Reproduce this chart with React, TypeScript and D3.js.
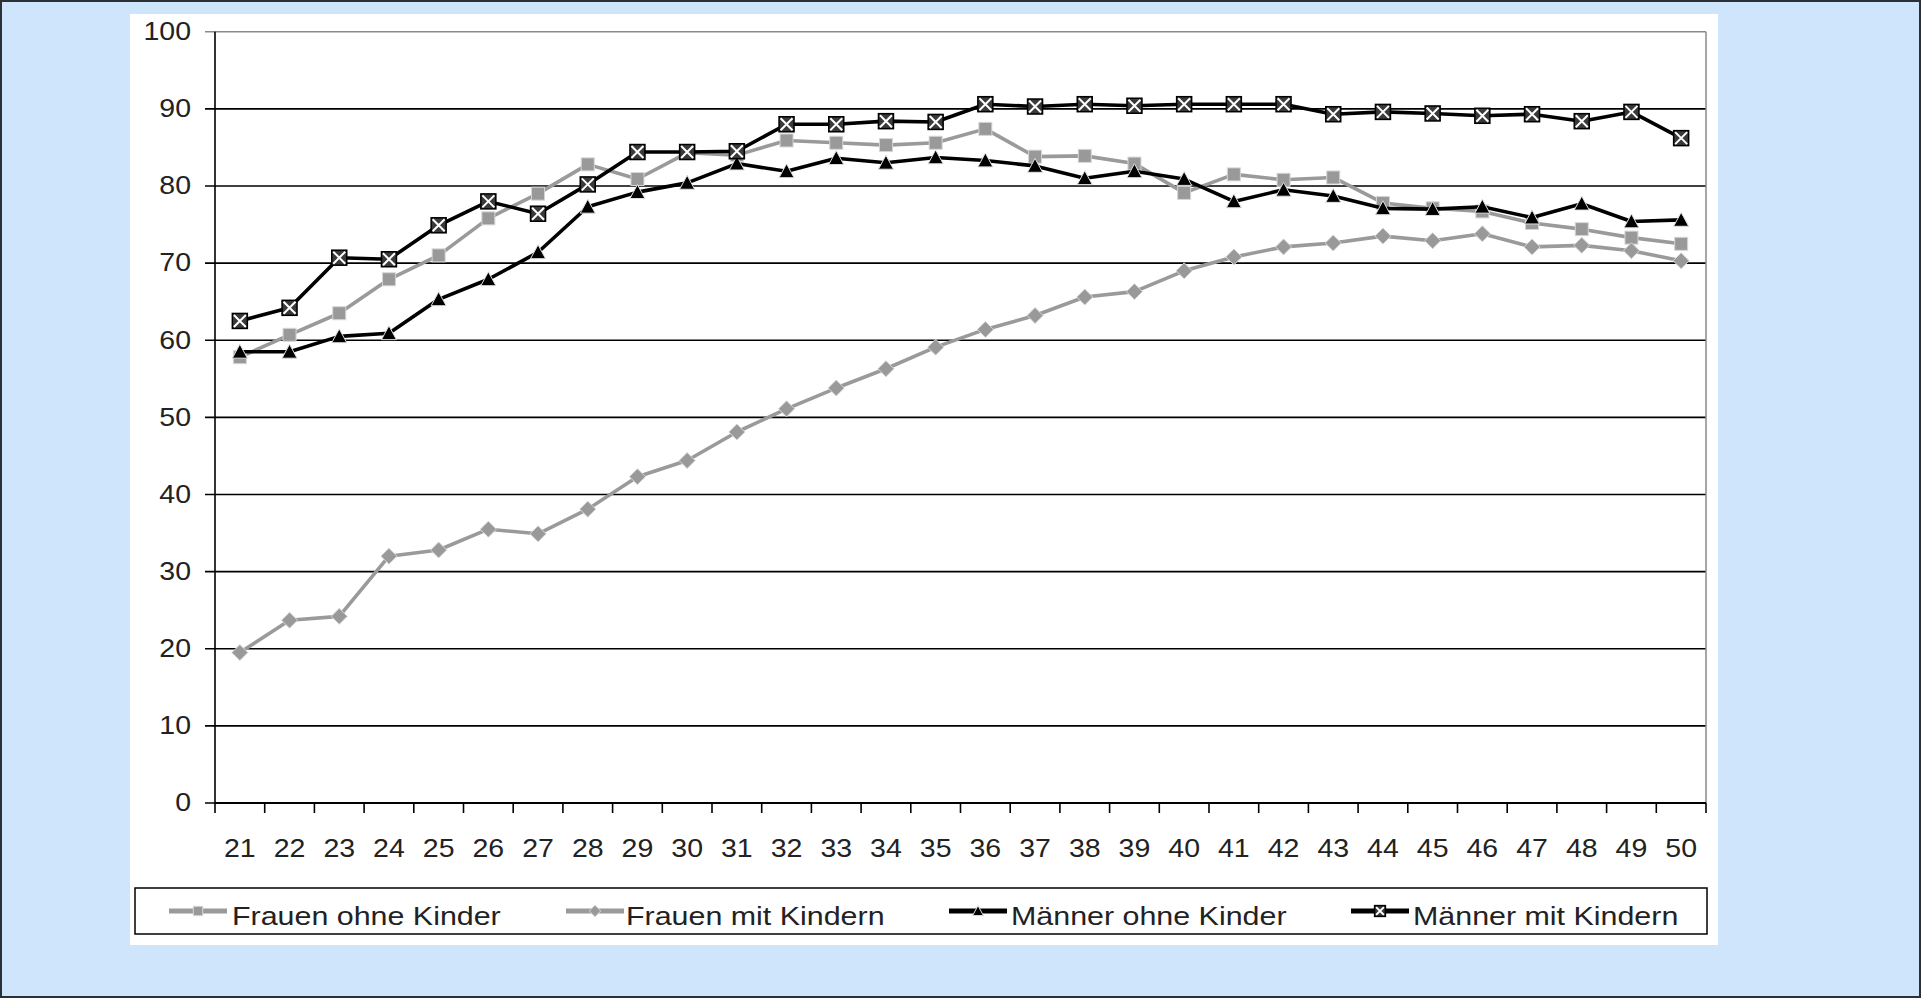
import React, { useMemo } from 'react'
import * as d3 from 'd3'

// Altersjahre (x-Achse)
const ages = [
  '21', '22', '23', '24', '25', '26', '27', '28', '29', '30',
  '31', '32', '33', '34', '35', '36', '37', '38', '39', '40',
  '41', '42', '43', '44', '45', '46', '47', '48', '49', '50',
]

const frauenOhneKinder = [
  57.8, 60.7, 63.5, 67.9, 71.0, 75.8, 79.0, 82.8, 80.9, 84.3,
  84.0, 85.9, 85.6, 85.3, 85.6, 87.4, 83.8, 83.9, 82.9, 79.1,
  81.5, 80.8, 81.1, 77.8, 77.1, 76.7, 75.2, 74.4, 73.3, 72.5,
]
const frauenMitKindern = [
  19.5, 23.7, 24.2, 32.0, 32.8, 35.5, 34.9, 38.1, 42.3, 44.4,
  48.1, 51.1, 53.8, 56.3, 59.1, 61.4, 63.2, 65.6, 66.3, 69.0,
  70.8, 72.1, 72.6, 73.5, 72.9, 73.8, 72.1, 72.3, 71.6, 70.3,
]
const maennerOhneKinder = [
  58.5, 58.5, 60.5, 60.9, 65.3, 67.9, 71.4, 77.3, 79.2, 80.4,
  82.9, 81.9, 83.6, 83.0, 83.7, 83.3, 82.6, 81.0, 81.9, 80.9,
  78.0, 79.5, 78.7, 77.1, 77.0, 77.3, 75.9, 77.7, 75.4, 75.6,
]
const maennerMitKindern = [
  62.5, 64.2, 70.7, 70.5, 74.9, 78.0, 76.4, 80.2, 84.4, 84.4,
  84.5, 88.0, 88.0, 88.4, 88.3, 90.6, 90.3, 90.6, 90.4, 90.6,
  90.6, 90.6, 89.3, 89.6, 89.4, 89.1, 89.3, 88.4, 89.6, 86.2,
]

const yTicks = [0, 10, 20, 30, 40, 50, 60, 70, 80, 90, 100]

type MarkerKind = 'square' | 'diamond' | 'triangle' | 'xsquare'

interface Series {
  name: string
  values: number[]
  color: string
  marker: MarkerKind
}

const series: Series[] = [
  { name: 'Frauen ohne Kinder', values: frauenOhneKinder, color: '#9a9a9a', marker: 'square' },
  { name: 'Frauen mit Kindern', values: frauenMitKindern, color: '#9a9a9a', marker: 'diamond' },
  { name: 'Männer ohne Kinder', values: maennerOhneKinder, color: '#000000', marker: 'triangle' },
  { name: 'Männer mit Kindern', values: maennerMitKindern, color: '#000000', marker: 'xsquare' },
]

const W = 1921
const H = 998
const FONT = '"Liberation Sans", Arial, sans-serif'
const STRETCH = 1.14 // the original picture is stretched horizontally
const LEGEND_STRETCH = 1.17

const plot = { left: 215, right: 1706, top: 31.7, bottom: 803 }

const Marker: React.FC<{ kind: MarkerKind; x: number; y: number; s?: number }> = ({ kind, x, y, s = 1 }) => {
  if (kind === 'square') {
    const h = 6.5 * s
    return <rect x={x - h} y={y - h} width={2 * h} height={2 * h} fill="#999999" stroke="#d6d6d6" strokeWidth={1} />
  }
  if (kind === 'diamond') {
    const h = 8 * s
    return (
      <path
        d={`M${x},${y - h}L${x + h},${y}L${x},${y + h}L${x - h},${y}Z`}
        fill="#999999"
        stroke="#d6d6d6"
        strokeWidth={1}
      />
    )
  }
  if (kind === 'triangle') {
    const h = 7.5 * s
    return (
      <path
        d={`M${x},${y - h}L${x + h},${y + h * 0.85}L${x - h},${y + h * 0.85}Z`}
        fill="#000"
        stroke="#e0e0e0"
        strokeWidth={1}
      />
    )
  }
  const h = 7.5 * s
  return (
    <g>
      <rect x={x - h} y={y - h} width={2 * h} height={2 * h} fill="#3a3a3a" stroke="#000" strokeWidth={1.5} />
      <path
        d={`M${x - h + 1.5},${y - h + 1.5}L${x + h - 1.5},${y + h - 1.5}M${x + h - 1.5},${y - h + 1.5}L${x - h + 1.5},${y + h - 1.5}`}
        stroke="#fff"
        strokeWidth={2}
      />
    </g>
  )
}

const legendItems = [
  { lineX: 169, textX: 232 },
  { lineX: 566, textX: 626 },
  { lineX: 949, textX: 1011 },
  { lineX: 1351, textX: 1413 },
]

export default function App() {
  const x = useMemo(
    () => d3.scaleBand<string>().domain(ages).range([plot.left, plot.right]).padding(0),
    []
  )
  const y = useMemo(() => d3.scaleLinear().domain([0, 100]).range([plot.bottom, plot.top]), [])

  const cx = (a: string) => (x(a) ?? 0) + x.bandwidth() / 2

  const line = d3
    .line<number>()
    .x((_, i) => cx(ages[i]))
    .y(d => y(d))

  const xTickPositions = ages.map(a => x(a) ?? 0).concat([plot.right])

  return (
    <svg
      width={W}
      height={H}
      style={{ position: 'absolute', left: 0, top: 0, display: 'block' }}
      fontFamily={FONT}
    >
      <rect x={0} y={0} width={W} height={H} fill="#cfe5fc" />
      <rect x={1} y={1} width={W - 2} height={H - 2} fill="none" stroke="#2b2f36" strokeWidth={2} />
      <rect x={130} y={14} width={1588} height={931} fill="#fff" />

      {/* gridlines */}
      {yTicks.map(t => (
        <line
          key={t}
          x1={plot.left - 10}
          x2={plot.right}
          y1={y(t)}
          y2={y(t)}
          stroke={t === 100 ? '#8a8a8a' : '#000'}
          strokeWidth={t === 100 ? 1.5 : 1.6}
        />
      ))}
      <line x1={plot.right} x2={plot.right} y1={plot.top} y2={plot.bottom} stroke="#8a8a8a" strokeWidth={1.5} />
      <line x1={plot.left} x2={plot.left} y1={plot.top} y2={plot.bottom} stroke="#000" strokeWidth={1.6} />
      <line x1={plot.left} x2={plot.right} y1={plot.bottom} y2={plot.bottom} stroke="#000" strokeWidth={1.8} />
      {xTickPositions.map((p, i) => (
        <line key={i} x1={p} x2={p} y1={plot.bottom} y2={plot.bottom + 10} stroke="#000" strokeWidth={1.6} />
      ))}

      {/* y tick labels */}
      {yTicks.map(t => (
        <text
          key={t}
          transform={`translate(191,${y(t)}) scale(${STRETCH},1)`}
          textAnchor="end"
          dominantBaseline="central"
          fontSize={25}
          fill="#222"
        >
          {t}
        </text>
      ))}

      {/* x tick labels */}
      {ages.map(a => (
        <text
          key={a}
          transform={`translate(${cx(a)},${857}) scale(${STRETCH},1)`}
          textAnchor="middle"
          fontSize={25}
          fill="#222"
        >
          {a}
        </text>
      ))}

      {/* series */}
      {series.map(s => (
        <g key={s.name}>
          <path d={line(s.values) ?? ''} fill="none" stroke={s.color} strokeWidth={3.6} strokeLinejoin="round" />
          {s.values.map((v, i) => (
            <Marker key={i} kind={s.marker} x={cx(ages[i])} y={y(v)} />
          ))}
        </g>
      ))}

      {/* legend */}
      <rect x={135} y={888} width={1572} height={46} fill="#fff" stroke="#000" strokeWidth={1.5} />
      {series.map((s, i) => {
        const it = legendItems[i]
        const ly = 911
        return (
          <g key={s.name}>
            <line x1={it.lineX} x2={it.lineX + 58} y1={ly} y2={ly} stroke={s.color} strokeWidth={5} />
            <Marker kind={s.marker} x={it.lineX + 29} y={ly} s={0.72} />
            <text
              transform={`translate(${it.textX},${925}) scale(${LEGEND_STRETCH},1)`}
              fontSize={26}
              fill="#222"
            >
              {s.name}
            </text>
          </g>
        )
      })}
    </svg>
  )
}
